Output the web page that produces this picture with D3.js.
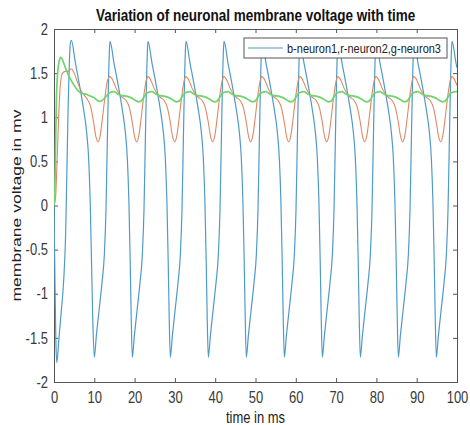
<!DOCTYPE html>
<html>
<head>
<meta charset="utf-8">
<script src="https://cdn.jsdelivr.net/npm/d3@7"></script>
<style>
  body { margin: 0; background: #fff; }
  text { font-family: "Liberation Sans", Arial, sans-serif; }
</style>
</head>
<body>
<svg id="chart" width="470" height="425"></svg>
<script>
// neuron1 (blue), neuron2 (red), neuron3 (green): [time ms, voltage mv]
const neuron1 = [
  [0, 0.0], [0.25, -0.9], [0.45, -1.5], [0.7, -1.78], [1.2, -1.52], [1.8, -1.2], [2.4, -0.85], [2.9, -0.3], [3.2, 0.4], [3.5, 1.1], [3.8, 1.6], [4.05, 1.84], [4.3, 1.87],
  [5.3, 1.62], [6.3, 1.37], [7.3, 1.10], [8.1, 0.83], [8.6, 0.53], [9.0, 0.02], [9.3, -0.62], [9.6, -1.25],
  [10.0, -1.72], [10.5, -1.48], [11.2, -1.18], [11.9, -0.88], [12.5, -0.55], [12.9, -0.05], [13.2, 0.65], [13.5, 1.35], [13.75, 1.76], [13.9, 1.86],
  [14.9, 1.61], [15.9, 1.37], [16.9, 1.10], [17.7, 0.83], [18.2, 0.53], [18.6, 0.02], [18.9, -0.62], [19.15, -1.25],
  [19.43, -1.72], [19.93, -1.48], [20.63, -1.18], [21.33, -0.88], [21.93, -0.55], [22.33, -0.05], [22.63, 0.65], [22.93, 1.35], [23.18, 1.76], [23.33, 1.86],
  [24.33, 1.61], [25.33, 1.37], [26.33, 1.10], [27.13, 0.83], [27.63, 0.53], [28.03, 0.02], [28.33, -0.62], [28.58, -1.25],
  [28.86, -1.72], [29.36, -1.48], [30.06, -1.18], [30.76, -0.88], [31.36, -0.55], [31.76, -0.05], [32.06, 0.65], [32.36, 1.35], [32.61, 1.76], [32.76, 1.86],
  [33.76, 1.61], [34.76, 1.37], [35.76, 1.10], [36.56, 0.83], [37.06, 0.53], [37.46, 0.02], [37.76, -0.62], [38.01, -1.25],
  [38.29, -1.72], [38.79, -1.48], [39.49, -1.18], [40.19, -0.88], [40.79, -0.55], [41.19, -0.05], [41.49, 0.65], [41.79, 1.35], [42.04, 1.76], [42.19, 1.86],
  [43.19, 1.61], [44.19, 1.37], [45.19, 1.10], [45.99, 0.83], [46.49, 0.53], [46.89, 0.02], [47.19, -0.62], [47.44, -1.25],
  [47.72, -1.72], [48.22, -1.48], [48.92, -1.18], [49.62, -0.88], [50.22, -0.55], [50.62, -0.05], [50.92, 0.65], [51.22, 1.35], [51.47, 1.76], [51.62, 1.86],
  [52.62, 1.61], [53.62, 1.37], [54.62, 1.10], [55.42, 0.83], [55.92, 0.53], [56.32, 0.02], [56.62, -0.62], [56.87, -1.25],
  [57.15, -1.72], [57.65, -1.48], [58.35, -1.18], [59.05, -0.88], [59.65, -0.55], [60.05, -0.05], [60.35, 0.65], [60.65, 1.35], [60.9, 1.76], [61.05, 1.86],
  [62.05, 1.61], [63.05, 1.37], [64.05, 1.10], [64.85, 0.83], [65.35, 0.53], [65.75, 0.02], [66.05, -0.62], [66.3, -1.25],
  [66.58, -1.72], [67.08, -1.48], [67.78, -1.18], [68.48, -0.88], [69.08, -0.55], [69.48, -0.05], [69.78, 0.65], [70.08, 1.35], [70.33, 1.76], [70.48, 1.86],
  [71.48, 1.61], [72.48, 1.37], [73.48, 1.10], [74.28, 0.83], [74.78, 0.53], [75.18, 0.02], [75.48, -0.62], [75.73, -1.25],
  [76.01, -1.72], [76.51, -1.48], [77.21, -1.18], [77.91, -0.88], [78.51, -0.55], [78.91, -0.05], [79.21, 0.65], [79.51, 1.35], [79.76, 1.76], [79.91, 1.86],
  [80.91, 1.61], [81.91, 1.37], [82.91, 1.10], [83.71, 0.83], [84.21, 0.53], [84.61, 0.02], [84.91, -0.62], [85.16, -1.25],
  [85.44, -1.72], [85.94, -1.48], [86.64, -1.18], [87.34, -0.88], [87.94, -0.55], [88.34, -0.05], [88.64, 0.65], [88.94, 1.35], [89.19, 1.76], [89.34, 1.86],
  [90.34, 1.61], [91.34, 1.37], [92.34, 1.10], [93.14, 0.83], [93.64, 0.53], [94.04, 0.02], [94.34, -0.62], [94.59, -1.25],
  [94.87, -1.72], [95.37, -1.48], [96.07, -1.18], [96.77, -0.88], [97.37, -0.55], [97.77, -0.05], [98.07, 0.65], [98.37, 1.35], [98.62, 1.76], [98.77, 1.86],
  [99.77, 1.61], [100, 1.56]
];

const neuron2 = [
  [0, 0.0], [0.4, 0.1], [0.8, 0.55], [1.2, 1.05], [1.6, 1.38], [2.1, 1.5], [2.8, 1.52], [3.5, 1.52], [4.3, 1.55],
  [5.0, 1.50], [5.8, 1.40], [6.6, 1.31], [7.5, 1.25], [8.3, 1.2], [9.1, 1.12], [9.8, 0.95], [10.4, 0.78], [10.9, 0.72], [11.4, 0.78], [12.0, 0.98], [12.7, 1.25], [13.3, 1.42],
  [13.9, 1.46], [14.6, 1.42], [15.4, 1.33], [16.2, 1.26], [17.1, 1.22], [17.9, 1.19], [18.7, 1.11], [19.4, 0.95], [20.0, 0.78], [20.5, 0.72], [21.0, 0.78], [21.6, 0.98], [22.3, 1.25], [22.9, 1.42],
  [23.33, 1.46], [24.03, 1.42], [24.83, 1.33], [25.63, 1.26], [26.53, 1.22], [27.33, 1.19], [28.13, 1.11], [28.83, 0.95], [29.43, 0.78], [29.93, 0.72], [30.43, 0.78], [31.03, 0.98], [31.73, 1.25], [32.33, 1.42],
  [32.76, 1.46], [33.46, 1.42], [34.26, 1.33], [35.06, 1.26], [35.96, 1.22], [36.76, 1.19], [37.56, 1.11], [38.26, 0.95], [38.86, 0.78], [39.36, 0.72], [39.86, 0.78], [40.46, 0.98], [41.16, 1.25], [41.76, 1.42],
  [42.19, 1.46], [42.89, 1.42], [43.69, 1.33], [44.49, 1.26], [45.39, 1.22], [46.19, 1.19], [46.99, 1.11], [47.69, 0.95], [48.29, 0.78], [48.79, 0.72], [49.29, 0.78], [49.89, 0.98], [50.59, 1.25], [51.19, 1.42],
  [51.62, 1.46], [52.32, 1.42], [53.12, 1.33], [53.92, 1.26], [54.82, 1.22], [55.62, 1.19], [56.42, 1.11], [57.12, 0.95], [57.72, 0.78], [58.22, 0.72], [58.72, 0.78], [59.32, 0.98], [60.02, 1.25], [60.62, 1.42],
  [61.05, 1.46], [61.75, 1.42], [62.55, 1.33], [63.35, 1.26], [64.25, 1.22], [65.05, 1.19], [65.85, 1.11], [66.55, 0.95], [67.15, 0.78], [67.65, 0.72], [68.15, 0.78], [68.75, 0.98], [69.45, 1.25], [70.05, 1.42],
  [70.48, 1.46], [71.18, 1.42], [71.98, 1.33], [72.78, 1.26], [73.68, 1.22], [74.48, 1.19], [75.28, 1.11], [75.98, 0.95], [76.58, 0.78], [77.08, 0.72], [77.58, 0.78], [78.18, 0.98], [78.88, 1.25], [79.48, 1.42],
  [79.91, 1.46], [80.61, 1.42], [81.41, 1.33], [82.21, 1.26], [83.11, 1.22], [83.91, 1.19], [84.71, 1.11], [85.41, 0.95], [86.01, 0.78], [86.51, 0.72], [87.01, 0.78], [87.61, 0.98], [88.31, 1.25], [88.91, 1.42],
  [89.34, 1.46], [90.04, 1.42], [90.84, 1.33], [91.64, 1.26], [92.54, 1.22], [93.34, 1.19], [94.14, 1.11], [94.84, 0.95], [95.44, 0.78], [95.94, 0.72], [96.44, 0.78], [97.04, 0.98], [97.74, 1.25], [98.34, 1.42],
  [98.77, 1.46], [99.47, 1.42], [100, 1.36]
];

const neuron3 = [
  [0, 0.0], [0.2, 0.15], [0.4, 0.7], [0.6, 1.2], [0.9, 1.5], [1.3, 1.64], [1.7, 1.68], [2.2, 1.64], [3.0, 1.54], [4.0, 1.44], [5.0, 1.36], [6.0, 1.30],
  [7.0, 1.27], [8.0, 1.26], [9.0, 1.24], [10.0, 1.22], [10.8, 1.19], [11.4, 1.18], [12.2, 1.2], [13.0, 1.24],
  [13.9, 1.28], [14.9, 1.29], [15.9, 1.26], [16.9, 1.245], [17.9, 1.24], [18.9, 1.225], [19.9, 1.2], [20.9, 1.175], [21.5, 1.18], [22.2, 1.22], [22.9, 1.27],
  [23.33, 1.28], [24.33, 1.29], [25.33, 1.26], [26.33, 1.245], [27.33, 1.24], [28.33, 1.225], [29.33, 1.2], [30.33, 1.175], [30.93, 1.18], [31.63, 1.22], [32.33, 1.27],
  [32.76, 1.28], [33.76, 1.29], [34.76, 1.26], [35.76, 1.245], [36.76, 1.24], [37.76, 1.225], [38.76, 1.2], [39.76, 1.175], [40.36, 1.18], [41.06, 1.22], [41.76, 1.27],
  [42.19, 1.28], [43.19, 1.29], [44.19, 1.26], [45.19, 1.245], [46.19, 1.24], [47.19, 1.225], [48.19, 1.2], [49.19, 1.175], [49.79, 1.18], [50.49, 1.22], [51.19, 1.27],
  [51.62, 1.28], [52.62, 1.29], [53.62, 1.26], [54.62, 1.245], [55.62, 1.24], [56.62, 1.225], [57.62, 1.2], [58.62, 1.175], [59.22, 1.18], [59.92, 1.22], [60.62, 1.27],
  [61.05, 1.28], [62.05, 1.29], [63.05, 1.26], [64.05, 1.245], [65.05, 1.24], [66.05, 1.225], [67.05, 1.2], [68.05, 1.175], [68.65, 1.18], [69.35, 1.22], [70.05, 1.27],
  [70.48, 1.28], [71.48, 1.29], [72.48, 1.26], [73.48, 1.245], [74.48, 1.24], [75.48, 1.225], [76.48, 1.2], [77.48, 1.175], [78.08, 1.18], [78.78, 1.22], [79.48, 1.27],
  [79.91, 1.28], [80.91, 1.29], [81.91, 1.26], [82.91, 1.245], [83.91, 1.24], [84.91, 1.225], [85.91, 1.2], [86.91, 1.175], [87.51, 1.18], [88.21, 1.22], [88.91, 1.27],
  [89.34, 1.28], [90.34, 1.29], [91.34, 1.26], [92.34, 1.245], [93.34, 1.24], [94.34, 1.225], [95.34, 1.2], [96.34, 1.175], [96.94, 1.18], [97.64, 1.22], [98.34, 1.27],
  [98.77, 1.28], [99.77, 1.29], [100, 1.29]
];

const xTicks = [0, 10, 20, 30, 40, 50, 60, 70, 80, 90, 100];
const yTicks = [-2, -1.5, -1, -0.5, 0, 0.5, 1, 1.5, 2];
const legendLabel = 'b-neuron1,r-neuron2,g-neuron3';

const margin = { top: 29, right: 13, bottom: 43, left: 54 };
const width = 470, height = 425;
const iw = width - margin.left - margin.right;
const ih = height - margin.top - margin.bottom;
// the source picture is a bit stretched vertically, text too
const stretch = 1.25;

const svg = d3.select('#chart');
const g = svg.append('g').attr('transform', `translate(${margin.left},${margin.top})`);

const x = d3.scaleLinear().domain([0, 100]).range([0, iw]);
const y = d3.scaleLinear().domain([-2, 2]).range([ih, 0]);

svg.append('defs').append('clipPath').attr('id', 'clip')
  .append('rect').attr('width', iw).attr('height', ih);

const axisColor = '#555';
const tickLen = 4;

// axes, ticks pointing inward like matlab
const xAxis = g.append('g').attr('transform', `translate(0,${ih})`)
  .call(d3.axisBottom(x).tickValues(xTicks).tickSize(-tickLen).tickFormat(d3.format('d')));
const xTop = g.append('g')
  .call(d3.axisTop(x).tickValues(xTicks).tickSize(-tickLen).tickFormat(''));
const yAxis = g.append('g')
  .call(d3.axisLeft(y).tickValues(yTicks).tickSize(-tickLen).tickPadding(6).tickFormat(d => d));
const yRight = g.append('g').attr('transform', `translate(${iw},0)`)
  .call(d3.axisRight(y).tickValues(yTicks).tickSize(-tickLen).tickFormat(''));

[xAxis, xTop, yAxis, yRight].forEach(a => {
  a.select('.domain').attr('stroke', axisColor).attr('stroke-width', 1);
  a.selectAll('.tick line').attr('stroke', axisColor);
  a.selectAll('.tick text').attr('fill', '#3a3a3a').style('font-size', '13px')
    .style('font-family', '"Liberation Sans", Arial, sans-serif')
    .attr('transform', `scale(1,${stretch})`);
});
xAxis.selectAll('.tick text').attr('y', 21 / stretch).attr('dy', 0);

const line = d3.line()
  .x(d => x(d[0]))
  .y(d => y(d[1]))
  .curve(d3.curveMonotoneX);

const lines = g.append('g').attr('clip-path', 'url(#clip)');
lines.append('path').datum(neuron1)
  .attr('fill', 'none').attr('stroke', '#4e9bc8').attr('stroke-width', 1.2).attr('d', line);
lines.append('path').datum(neuron2)
  .attr('fill', 'none').attr('stroke', '#de8964').attr('stroke-width', 1.1).attr('d', line);
lines.append('path').datum(neuron3)
  .attr('fill', 'none').attr('stroke', '#6fd46f').attr('stroke-width', 1.7).attr('d', line);

// legend
const lg = svg.append('g').attr('transform', 'translate(244,38)');
lg.append('rect').attr('width', 203).attr('height', 20)
  .attr('fill', '#fff').attr('stroke', '#555').attr('stroke-width', 1);
lg.append('line').attr('x1', 4).attr('x2', 39).attr('y1', 10).attr('y2', 10)
  .attr('stroke', '#4e9bc8').attr('stroke-width', 1.2);
lg.append('text').attr('transform', `translate(43,14.5) scale(1,1.15)`).attr('fill', '#222')
  .style('font-size', '11px').text(legendLabel);

// title and labels
svg.append('text').attr('transform', `translate(${margin.left + iw / 2},21) scale(1,${stretch})`)
  .attr('text-anchor', 'middle').attr('fill', '#111')
  .style('font-size', '13.5px').style('font-weight', 'bold')
  .text('Variation of neuronal membrane voltage with time');

svg.append('text').attr('transform', `translate(${margin.left + iw / 2},423) scale(1,${stretch})`)
  .attr('text-anchor', 'middle').attr('fill', '#222').style('font-size', '13px')
  .text('time in ms');

svg.append('text').attr('transform', `translate(21,${margin.top + ih / 2}) rotate(-90) scale(1.3,1)`)
  .attr('text-anchor', 'middle').attr('fill', '#222').style('font-size', '13.5px')
  .text('membrane voltage in mv');
</script>
</body>
</html>
